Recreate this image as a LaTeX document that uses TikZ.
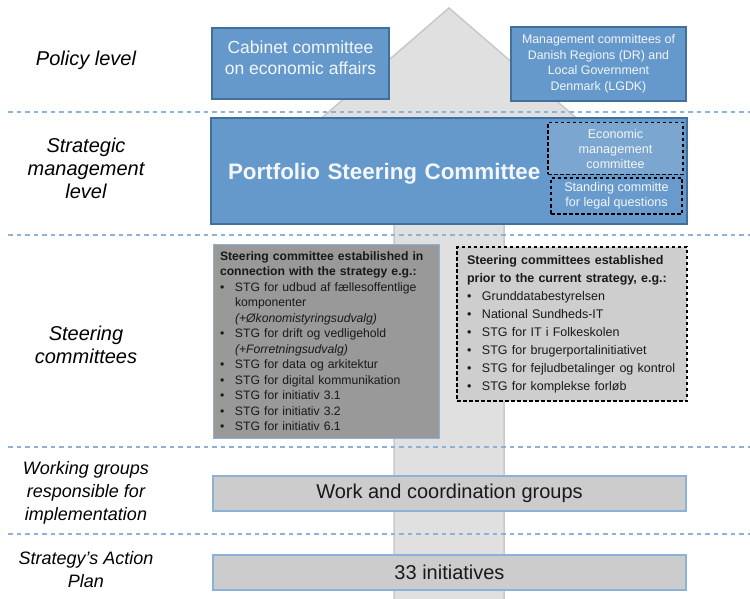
\documentclass[tikz,border=0pt]{standalone}
\usepackage{fontspec}
\setmainfont{Liberation Sans}
\usepackage{xcolor}
\usepackage{tikz}
\usetikzlibrary{positioning}

\definecolor{boxblue}{RGB}{101,153,203}
\definecolor{boxblueedge}{RGB}{66,112,156}
\definecolor{subblue}{RGB}{122,166,208}
\definecolor{sepblue}{RGB}{140,178,218}
\definecolor{arrowgrey}{RGB}{224,224,224}
\definecolor{arrowedge}{RGB}{200,200,200}
\definecolor{darkgreybox}{RGB}{153,153,153}
\definecolor{lightgreybox}{RGB}{206,206,206}
\definecolor{barfill}{RGB}{204,204,204}
\definecolor{bluetext}{RGB}{243,246,250}
\definecolor{inktext}{RGB}{25,25,25}

\newcommand{\fsz}[2]{\fontsize{#1}{#2}\selectfont}
\newcommand{\itm}[1]{\makebox[15pt][l]{\textbullet}#1}
\newcommand{\cont}{\hspace*{15pt}}

\tikzset{
    levellabel/.style={align=center, text=black, font=\itshape\fsz{20}{23}},
    lowlabel/.style={align=center, text=black, font=\itshape\fsz{18}{23}},
    bluebox/.style={rectangle, draw=boxblueedge, fill=boxblue, line width=1.5pt, text=bluetext},
    subbox/.style={rectangle, draw=black, dash pattern=on 3.5pt off 2.5pt, line width=1.1pt,
        fill=subblue, text=bluetext, align=center, font=\fsz{12.6}{15}},
    stgbox/.style={rectangle, align=left, text=inktext, inner xsep=7pt, text width=212pt},
    barbox/.style={rectangle, draw=sepblue, fill=barfill, line width=1.2pt, text=inktext,
        minimum width=473pt, minimum height=35pt, font=\fsz{20}{23}},
    sepline/.style={draw=sepblue, line width=1.5pt, dash pattern=on 4.5pt off 4pt},
    arrowbody/.style={draw=arrowedge, fill=arrowgrey, line width=1.5pt, line join=miter}
}

\begin{document}
\begin{tikzpicture}[x=1pt, y=-1pt]
    \useasboundingbox (0,0) rectangle (750,599);

    % Mũi tên nền
    \draw[arrowbody] (449,8) -- (625,160) -- (504,160) -- (504,603)
        -- (394,603) -- (394,160) -- (273,160) -- cycle;

    % Các đường phân cách
    \foreach \yy in {112,235,447,534} {
        \draw[sepline] (8,\yy) -- (750,\yy);
    }

    % Nhãn các cấp
    \node[levellabel] (policy) at (86,60) {Policy level};
    \node[levellabel] (strategic) at (86,168) {Strategic\\management\\level};
    \node[levellabel] (steering) at (86,345) {Steering\\committees};
    \node[lowlabel] (working) at (86,493) {Working groups\\responsible for\\implementation};
    \node[lowlabel] (actionplan) at (86,570) {Strategy’s Action\\Plan};

    % Cấp chính sách
    \node[bluebox, minimum width=177pt, minimum height=71pt] (cabinet) at (300.5,63.5) {};
    \node[align=center, text=bluetext, font=\fsz{17.5}{20.5}] (cabinettext) at (300.5,57.5)
        {Cabinet committee\\on economic affairs};
    \node[bluebox, minimum width=175pt, minimum height=74pt, align=center,
        font=\fsz{12.4}{15.5}] (mgmt) at (598.5,64)
        {Management committees of\\Danish Regions (DR) and\\Local Government\\Denmark (LGDK)};

    % Cấp quản lý chiến lược
    \node[bluebox, minimum width=476pt, minimum height=106pt, text width=442pt, text depth=0pt,
        inner xsep=17pt, align=left, font=\bfseries\fsz{22.4}{26}] (portfolio) at (449,171)
        {Portfolio Steering Committee};
    \node[subbox, minimum width=135pt, minimum height=52pt] (econ) at (615.5,148.5)
        {Economic\\management\\committee};
    \node[subbox, minimum width=131pt, minimum height=36pt, fill=boxblue!85!subblue] (legal)
        at (616.5,196) {Standing committe\\for legal questions};

    % Các ban chỉ đạo
    \node[stgbox, draw=sepblue, line width=1pt, fill=darkgreybox, minimum height=194pt,
        font=\fsz{12.2}{15.5}] (newstg) at (326,341)
        {\textbf{Steering committee estabilished in}\\
         \textbf{connection with the strategy e.g.:}\\
         \itm{STG for udbud af fællesoffentlige}\\
         \cont komponenter\\
         \cont\textit{(+Økonomistyringsudvalg)}\\
         \itm{STG for drift og vedligehold}\\
         \cont\textit{(+Forretningsudvalg)}\\
         \itm{STG for data og arkitektur}\\
         \itm{STG for digital kommunikation}\\
         \itm{STG for initiativ 3.1}\\
         \itm{STG for initiativ 3.2}\\
         \itm{STG for initiativ 6.1}};
    \node[stgbox, draw=black, dash pattern=on 3.5pt off 2.5pt, line width=1.1pt,
        fill=lightgreybox, minimum height=154pt, inner xsep=10pt, text width=210pt,
        font=\fsz{12.5}{18}] (oldstg) at (572,324)
        {\textbf{Steering committees established}\\
         \textbf{prior to the current strategy, e.g.:}\\
         \itm{Grunddatabestyrelsen}\\
         \itm{National Sundheds-IT}\\
         \itm{STG for IT i Folkeskolen}\\
         \itm{STG for brugerportalinitiativet}\\
         \itm{STG for fejludbetalinger og kontrol}\\
         \itm{STG for komplekse forløb}};

    % Nhóm công tác và kế hoạch hành động
    \node[barbox] (work) at (449.5,493.5) {Work and coordination groups};
    \node[barbox] (initiatives) at (449.5,572.5) {33 initiatives};
\end{tikzpicture}
\end{document}
